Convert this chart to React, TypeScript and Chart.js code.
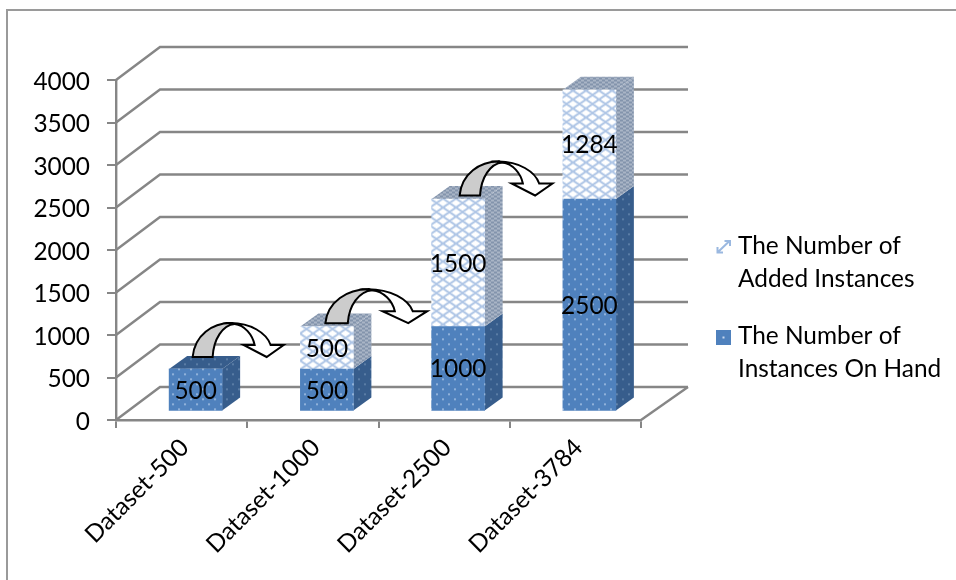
import React, { useEffect, useRef } from "react";
import { Chart, registerables } from "chart.js";

Chart.register(...registerables);

const categories = ["Dataset-500", "Dataset-1000", "Dataset-2500", "Dataset-3784"];
const onHand = [500, 500, 1000, 2500];
const added = [0, 500, 1500, 1284];
const onHandLegend = ["The Number of", "Instances On Hand"];
const addedLegend = ["The Number of", "Added Instances"];

const FONT = "Lato, 'Open Sans', sans-serif";
const TEXT_SIZE = 24.4;
const AXIS_GRAY = "#868686";

function tile(w: number, h: number, paint: (g: CanvasRenderingContext2D) => void) {
  const c = document.createElement("canvas");
  c.width = w;
  c.height = h;
  const g = c.getContext("2d")!;
  paint(g);
  return g.createPattern(c, "repeat")!;
}

function dotted(base: string, dot: string) {
  return tile(12, 10, (g) => {
    g.fillStyle = base;
    g.fillRect(0, 0, 12, 10);
    g.fillStyle = dot;
    g.fillRect(2, 2, 2, 1.5);
    g.fillRect(8, 7, 2, 1.5);
  });
}

function lattice() {
  return tile(13, 9, (g) => {
    g.fillStyle = "#ffffff";
    g.fillRect(0, 0, 13, 9);
    g.strokeStyle = "#afc6e6";
    g.lineWidth = 2;
    g.beginPath();
    g.moveTo(0, 0);
    g.lineTo(13, 9);
    g.moveTo(13, 0);
    g.lineTo(0, 9);
    g.moveTo(-6.5, 4.5);
    g.lineTo(0, 0);
    g.moveTo(13, 9);
    g.lineTo(19.5, 4.5);
    g.stroke();
  });
}

function weave() {
  return tile(6, 4, (g) => {
    g.fillStyle = "#a9b5c6";
    g.fillRect(0, 0, 6, 4);
    g.fillStyle = "#8394ac";
    g.fillRect(0, 0, 3, 2);
    g.fillRect(3, 2, 3, 2);
  });
}

// One curved arrow between neighbouring columns; (x, y) is the foot of its band.
function drawArrow(ctx: CanvasRenderingContext2D, x: number, y: number, sx: number) {
  const px = (v: number) => x + v * sx;
  const py = (v: number) => y + v;
  ctx.save();
  ctx.lineWidth = 2;
  ctx.strokeStyle = "#000";
  ctx.lineJoin = "miter";

  ctx.beginPath();
  ctx.moveTo(px(38), py(-34));
  ctx.bezierCurveTo(px(58), py(-34), px(74), py(-24), px(78), py(-12));
  ctx.lineTo(px(91), py(-12));
  ctx.lineTo(px(74), py(0));
  ctx.lineTo(px(51), py(-12));
  ctx.lineTo(px(62), py(-12));
  ctx.bezierCurveTo(px(60), py(-22), px(52), py(-32), px(42), py(-33));
  ctx.closePath();
  ctx.fillStyle = "#fff";
  ctx.fill();
  ctx.stroke();

  ctx.beginPath();
  ctx.moveTo(px(0), py(0));
  ctx.bezierCurveTo(px(2), py(-22), px(20), py(-34), px(38), py(-34));
  ctx.lineTo(px(42), py(-33));
  ctx.bezierCurveTo(px(30), py(-32), px(21), py(-18), px(20), py(0));
  ctx.closePath();
  ctx.fillStyle = "#cccccc";
  ctx.fill();
  ctx.stroke();
  ctx.restore();
}

export default function App() {
  const ref = useRef<HTMLCanvasElement>(null);

  useEffect(() => {
    const frontBlue = dotted("#4f81bd", "#a6c2e4");
    const sideBlue = dotted("#375d8c", "#6687ad");
    const frontLattice = lattice();
    const sideWeave = weave();

    const depth = { x: 18, y: 13 };
    const floorShift = { x: 14, y: -8.5 };
    const wall = { x: 44, y: 33 };

    const box3d = {
      id: "box3d",
      beforeDraw(chart: any) {
        const { ctx, chartArea: a, scales } = chart;
        ctx.save();
        // Frame around the chart, open to the right and below.
        ctx.fillStyle = "#9a9a9a";
        ctx.fillRect(6, 9, 950, 2);
        ctx.fillRect(6, 9, 2, 571);

        // Side wall and back wall lines, one per value tick.
        ctx.strokeStyle = AXIS_GRAY;
        ctx.lineWidth = 2.4;
        scales.y.ticks.forEach((t: any) => {
          const y = scales.y.getPixelForValue(t.value);
          ctx.beginPath();
          ctx.moveTo(a.left, y);
          ctx.lineTo(a.left + wall.x, y - wall.y);
          ctx.lineTo(a.right + wall.x + 3, y - wall.y);
          ctx.stroke();
        });
        // Right edge of the floor.
        ctx.beginPath();
        ctx.moveTo(a.right, a.bottom);
        ctx.lineTo(a.right + wall.x + 3, a.bottom - wall.y);
        ctx.stroke();
        ctx.restore();
      },
      beforeDatasetsDraw(chart: any) {
        const { ctx } = chart;
        ctx.save();
        ctx.translate(floorShift.x, floorShift.y);
        const faces = [
          { side: sideBlue, top: sideBlue },
          { side: sideWeave, top: sideWeave },
        ];
        chart.data.datasets.forEach((ds: any, d: number) => {
          chart.getDatasetMeta(d).data.forEach((el: any, i: number) => {
            if (!ds.data[i]) return;
            const r = el.x + el.width / 2;
            const l = el.x - el.width / 2;
            ctx.fillStyle = faces[d].side;
            ctx.beginPath();
            ctx.moveTo(r, el.base);
            ctx.lineTo(r + depth.x, el.base - depth.y);
            ctx.lineTo(r + depth.x, el.y - depth.y);
            ctx.lineTo(r, el.y);
            ctx.closePath();
            ctx.fill();
            const isTop = chart.data.datasets.slice(d + 1).every((o: any) => !o.data[i]);
            if (isTop) {
              ctx.fillStyle = faces[d].top;
              ctx.beginPath();
              ctx.moveTo(l, el.y);
              ctx.lineTo(l + depth.x, el.y - depth.y);
              ctx.lineTo(r + depth.x, el.y - depth.y);
              ctx.lineTo(r, el.y);
              ctx.closePath();
              ctx.fill();
            }
          });
        });
      },
      afterDatasetsDraw(chart: any) {
        const { ctx } = chart;
        // Value labels, still in the shifted floor position.
        ctx.font = `${TEXT_SIZE}px ${FONT}`;
        ctx.fillStyle = "#000";
        ctx.textAlign = "center";
        ctx.textBaseline = "middle";
        chart.data.datasets.forEach((ds: any, d: number) => {
          chart.getDatasetMeta(d).data.forEach((el: any, i: number) => {
            if (ds.data[i]) ctx.fillText(String(ds.data[i]), el.x, (el.y + el.base) / 2 + 1);
          });
        });
        ctx.restore();

        // Curved arrows from each column to the next one.
        const tops = chart.getDatasetMeta(1).data;
        const arrows = [
          { inset: 23.5, lift: 12, sx: 1 },
          { inset: 25, lift: 3.3, sx: 1.12 },
          { inset: 28, lift: 3.5, sx: 1.02 },
        ];
        arrows.forEach((ar, i) => {
          const el = tops[i];
          drawArrow(
            ctx,
            el.x + floorShift.x - el.width / 2 + ar.inset,
            el.y + floorShift.y - ar.lift,
            ar.sx,
          );
        });

        // Legend.
        ctx.save();
        ctx.font = `${TEXT_SIZE}px ${FONT}`;
        ctx.fillStyle = "#000";
        ctx.textAlign = "left";
        ctx.textBaseline = "alphabetic";
        addedLegend.forEach((s, i) => ctx.fillText(s, 738, 254 + i * 33));
        onHandLegend.forEach((s, i) => ctx.fillText(s, 738, 344 + i * 33));

        ctx.strokeStyle = "#9ab8e0";
        ctx.lineWidth = 2;
        ctx.beginPath();
        ctx.moveTo(717.5, 252.5);
        ctx.lineTo(729.5, 241);
        ctx.moveTo(724.5, 241);
        ctx.lineTo(730, 241);
        ctx.lineTo(730, 246);
        ctx.moveTo(717.5, 247);
        ctx.lineTo(717.5, 252.5);
        ctx.lineTo(723, 252.5);
        ctx.stroke();

        ctx.fillStyle = "#4f81bd";
        ctx.fillRect(716, 330, 15, 15);
        ctx.fillStyle = "#c9daf0";
        ctx.fillRect(722.5, 336.5, 2, 2);
        ctx.restore();
      },
    };

    const chart = new Chart(ref.current!, {
      type: "bar",
      data: {
        labels: categories,
        datasets: [
          {
            label: onHandLegend.join(" "),
            data: onHand,
            backgroundColor: frontBlue,
            borderWidth: 0,
            barThickness: 53,
            clip: false,
          },
          {
            label: addedLegend.join(" "),
            data: added,
            backgroundColor: frontLattice,
            borderWidth: 0,
            barThickness: 53,
            clip: false,
          },
        ],
      } as any,
      plugins: [box3d],
      options: {
        responsive: false,
        animation: false,
        layout: { padding: { left: 0, top: 80, right: 315, bottom: 0 } },
        plugins: { legend: { display: false }, tooltip: { enabled: false } },
        scales: {
          x: {
            stacked: true,
            border: { color: AXIS_GRAY, width: 2.4 },
            grid: {
              offset: true,
              drawOnChartArea: false,
              color: AXIS_GRAY,
              lineWidth: 2,
              tickLength: 8,
            },
            ticks: {
              color: "#000",
              font: { family: FONT, size: TEXT_SIZE },
              minRotation: 45,
              maxRotation: 45,
              padding: 5,
              labelOffset: 3,
              autoSkip: false,
            },
            afterFit(s: any) {
              s.height = 160;
              s.paddingLeft = s.paddingRight = 0;
            },
          },
          y: {
            stacked: true,
            min: 0,
            max: 4000,
            border: { color: AXIS_GRAY, width: 2.4 },
            grid: { drawOnChartArea: false, color: AXIS_GRAY, lineWidth: 2, tickLength: 9 },
            ticks: {
              stepSize: 500,
              color: "#000",
              padding: 17,
              labelOffset: 2,
              font: { family: FONT, size: TEXT_SIZE },
              callback: (v: any) => String(v),
            },
            afterFit(s: any) {
              s.width = 116;
              s.paddingTop = s.paddingBottom = 0;
            },
          },
        },
      } as any,
    });
    return () => chart.destroy();
  }, []);

  return (
    <div style={{ position: "absolute", left: 0, top: 0 }}>
      <canvas ref={ref} width={956} height={580} style={{ display: "block" }} />
    </div>
  );
}
